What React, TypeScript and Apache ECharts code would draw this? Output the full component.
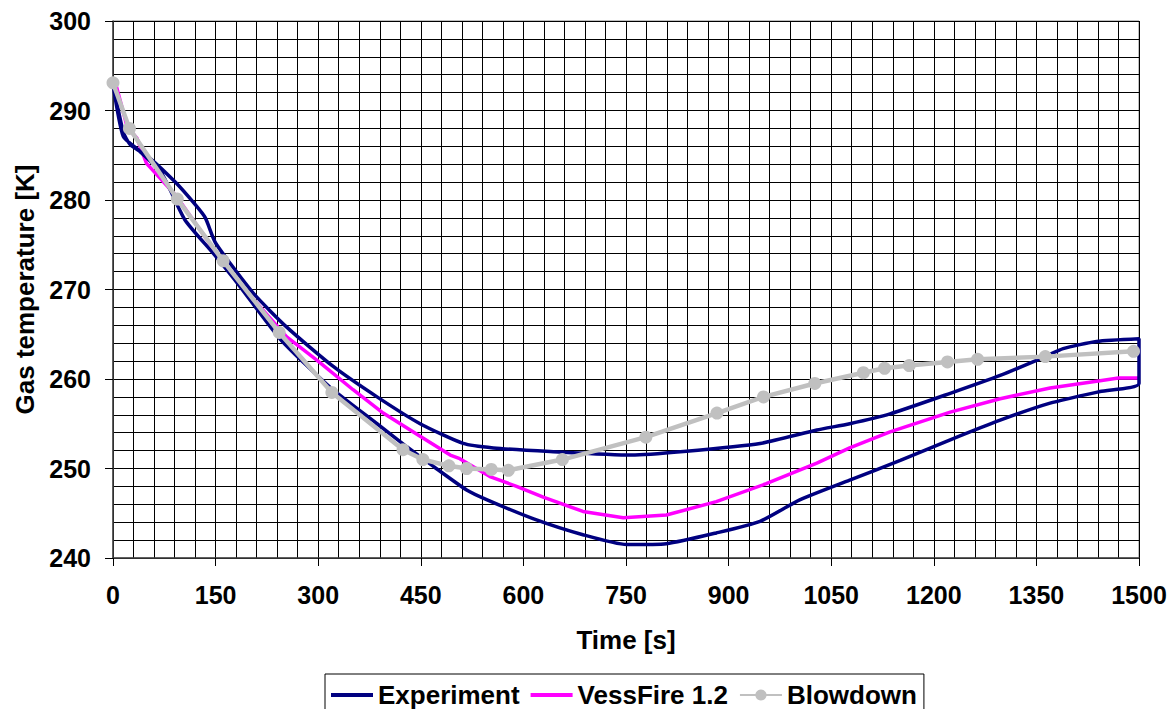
import React, { useEffect, useRef } from "react";
import * as echarts from "echarts";

// Time [s], Gas temperature [K]
const experimentUpper: [number, number][] = [
  [0, 293.0], [15, 287.6], [25, 286.2], [52, 284.8], [91, 282.0], [120, 279.5], [135, 278.0],
  [150, 275.2], [205, 269.6], [254, 265.8], [322, 261.4], [386, 258.0], [449, 255.0],
  [512, 252.8], [556, 252.3], [639, 251.9], [758, 251.5], [834, 251.9], [946, 252.8],
  [1029, 254.3], [1077, 255.0], [1136, 256.1], [1224, 258.4], [1297, 260.4], [1363, 262.5],
  [1389, 263.4], [1438, 264.2], [1500, 264.5],
];
const experimentLower: [number, number][] = [
  [1500, 259.5], [1443, 258.6], [1370, 257.3], [1297, 255.4], [1224, 253.2], [1151, 250.9],
  [1077, 248.7], [1004, 246.5], [946, 244.1], [882, 242.8], [809, 241.6], [751, 241.5],
  [687, 242.6], [614, 244.4], [547, 246.5], [517, 247.6], [469, 250.2], [430, 252.4],
  [386, 255.0], [317, 259.1], [244, 264.5], [186, 270.3], [147, 274.0], [105, 277.8],
  [71, 283.0], [37, 285.6], [15, 287.1], [0, 293.0],
];
const vessFire: [number, number][] = [
  [0, 293.0], [5, 292.7], [21, 288.1], [35, 286.9], [49, 284.1], [93, 280.4], [161, 273.0],
  [210, 268.5], [254, 264.7], [298, 262.1], [351, 258.8], [395, 256.2], [449, 253.6],
  [493, 251.5], [507, 251.1], [551, 249.1], [590, 248.0], [629, 246.8], [687, 245.2],
  [746, 244.5], [809, 244.8], [882, 246.3], [955, 248.3], [1029, 250.6], [1077, 252.3],
  [1136, 254.1], [1224, 256.3], [1297, 257.8], [1370, 259.0], [1443, 259.8], [1470, 260.1],
  [1500, 260.1],
];
const blowdown: [number, number][] = [
  [0, 293.1], [24, 288.0], [94, 280.1], [161, 273.2], [243, 265.2], [320, 258.5],
  [424, 252.1], [453, 251.0], [491, 250.3], [517, 250.0], [553, 249.9], [578, 249.8],
  [657, 251.0], [779, 253.5], [883, 256.2], [951, 258.0], [1026, 259.5], [1097, 260.7],
  [1128, 261.2], [1164, 261.5], [1220, 261.9], [1264, 262.2], [1363, 262.5], [1492, 263.1],
];
const seriesNames = ["Experiment", "VessFire 1.2", "Blowdown"];
const xTitle = "Time [s]";
const yTitle = "Gas temperature [K]";

const FONT = "'Liberation Sans', Arial, Helvetica, sans-serif";
const LINE_ICON = "path://M0,0 L42,0 L42,4 L0,4 Z";

export default function App() {
  const ref = useRef<HTMLDivElement>(null);
  useEffect(() => {
    if (!ref.current) return;
    const chart = echarts.init(ref.current, null, { renderer: "svg" });
    const labelStyle = { fontFamily: FONT, fontWeight: "bold" as const, fontSize: 25, color: "#000" };
    chart.setOption({
      animation: false,
      backgroundColor: "#fff",
      grid: { left: 113, top: 21, right: 36, bottom: 151, containLabel: false, outerBoundsMode: "none", show: true, borderColor: "#808080", borderWidth: 1 },
      xAxis: {
        type: "value",
        min: 0,
        max: 1500,
        interval: 150,
        name: xTitle,
        nameLocation: "middle",
        nameGap: 69,
        nameTextStyle: { ...labelStyle, fontSize: 26 },
        axisLine: { show: true, onZero: false, lineStyle: { color: "#404040", width: 1.5 } },
        axisTick: { show: true, length: 8, lineStyle: { color: "#000" } },
        axisLabel: { ...labelStyle, margin: 24, formatter: (v: number) => String(v) },
        splitLine: { show: true, lineStyle: { color: "#000", width: 1 } },
        minorTick: { show: false, splitNumber: 5 },
        minorSplitLine: { show: true, lineStyle: { color: "#000", width: 1 } },
      },
      yAxis: {
        type: "value",
        min: 240,
        max: 300,
        interval: 10,
        name: yTitle,
        nameLocation: "middle",
        nameGap: 75,
        nameTextStyle: { ...labelStyle, fontSize: 26 },
        axisLine: { show: true, onZero: false, lineStyle: { color: "#404040", width: 1.5 } },
        axisTick: { show: true, length: 8, lineStyle: { color: "#000" } },
        axisLabel: { ...labelStyle, margin: 22, formatter: (v: number) => String(v) },
        splitLine: { show: true, lineStyle: { color: "#000", width: 1 } },
        minorTick: { show: false, splitNumber: 5 },
        minorSplitLine: { show: true, lineStyle: { color: "#000", width: 1 } },
      },
      legend: {
        left: 325,
        top: 674,
        orient: "horizontal",
        data: [
          { name: seriesNames[0], icon: LINE_ICON },
          { name: seriesNames[1], icon: LINE_ICON },
          { name: seriesNames[2] },
        ],
        itemWidth: 42,
        itemHeight: 14,
        itemGap: 11,
        padding: [8, 7, 8, 6],
        borderColor: "#000",
        borderWidth: 1,
        backgroundColor: "#fff",
        textStyle: { fontFamily: FONT, fontWeight: "bold", fontSize: 26, color: "#000" },
      },
      series: [
        {
          name: seriesNames[0],
          type: "line",
          data: [...experimentUpper, ...experimentLower],
          showSymbol: false,
          symbol: "none",
          smooth: 0.2,
          clip: false,
          lineStyle: { color: "#000080", width: 3.5 },
          itemStyle: { color: "#000080" },
          z: 3,
        },
        {
          name: seriesNames[1],
          type: "line",
          data: vessFire,
          showSymbol: false,
          symbol: "none",
          clip: false,
          lineStyle: { color: "#ff00ff", width: 3.5 },
          itemStyle: { color: "#ff00ff" },
          z: 2,
        },
        {
          name: seriesNames[2],
          type: "line",
          data: blowdown,
          symbol: "circle",
          symbolSize: 13,
          clip: false,
          lineStyle: { color: "#c0c0c0", width: 4.5 },
          itemStyle: { color: "#c0c0c0" },
          z: 4,
        },
      ],
    });
    return () => chart.dispose();
  }, []);
  return <div ref={ref} style={{ position: "absolute", left: 0, top: 0, width: 1175, height: 709 }} />;
}
